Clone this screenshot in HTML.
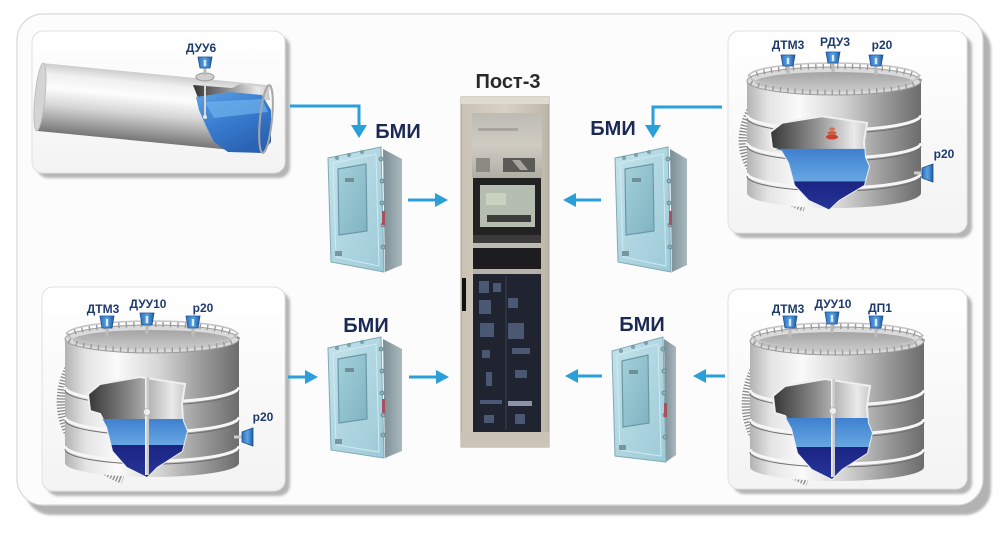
<!DOCTYPE html>
<html><head><meta charset="utf-8"><style>
html,body{margin:0;padding:0;background:#fff;width:1007px;height:534px;overflow:hidden}
svg{display:block}
text{font-family:"Liberation Sans","DejaVu Sans",sans-serif;font-weight:bold}
</style></head><body>
<svg width="1007" height="534" viewBox="0 0 1007 534" xmlns="http://www.w3.org/2000/svg">
<defs>
<filter id="blur2" x="-5%" y="-5%" width="110%" height="110%"><feGaussianBlur stdDeviation="1.2"/></filter>
<linearGradient id="boxg" x1="0" y1="0" x2="0" y2="1"><stop offset="0" stop-color="#ffffff"/><stop offset="1" stop-color="#f3f3f3"/></linearGradient>
<linearGradient id="tb" x1="0" y1="0" x2="1" y2="0"><stop offset="0" stop-color="#b3b3b3"/><stop offset="0.12" stop-color="#e4e4e4"/><stop offset="0.3" stop-color="#fafafa"/><stop offset="0.55" stop-color="#d3d3d3"/><stop offset="0.8" stop-color="#979797"/><stop offset="1" stop-color="#6c6c6c"/></linearGradient>
<linearGradient id="roof" x1="0" y1="0" x2="0" y2="1"><stop offset="0" stop-color="#a4a4a4"/><stop offset="1" stop-color="#cdcdcd"/></linearGradient>
<linearGradient id="inner" x1="0" y1="0" x2="1" y2="0"><stop offset="0" stop-color="#363636"/><stop offset="0.45" stop-color="#8e8e8e"/><stop offset="0.85" stop-color="#eaeaea"/><stop offset="1" stop-color="#c4c4c4"/></linearGradient>
<linearGradient id="wl" x1="0" y1="0" x2="0" y2="1"><stop offset="0" stop-color="#3f80cf"/><stop offset="1" stop-color="#68a8e2"/></linearGradient>
<linearGradient id="wd" x1="0" y1="0" x2="0" y2="1"><stop offset="0" stop-color="#1a2482"/><stop offset="1" stop-color="#2a3aa0"/></linearGradient>
<linearGradient id="pipeg" x1="0" y1="0" x2="0" y2="1"><stop offset="0" stop-color="#cdcdcd"/><stop offset="0.15" stop-color="#f0f0f0"/><stop offset="0.35" stop-color="#fdfdfd"/><stop offset="0.6" stop-color="#d6d6d6"/><stop offset="0.85" stop-color="#9a9a9a"/><stop offset="1" stop-color="#767676"/></linearGradient>
<linearGradient id="pw" x1="0" y1="0" x2="0.6" y2="1"><stop offset="0" stop-color="#5ea2e4"/><stop offset="0.5" stop-color="#3a7ed0"/><stop offset="1" stop-color="#2a62b4"/></linearGradient>
<linearGradient id="sb" x1="0" y1="0" x2="1" y2="0"><stop offset="0" stop-color="#2d6fbd"/><stop offset="0.5" stop-color="#5aa4e6"/><stop offset="1" stop-color="#1f5aa0"/></linearGradient>
<linearGradient id="bfront" x1="0" y1="0" x2="1" y2="1"><stop offset="0" stop-color="#c4e3eb"/><stop offset="1" stop-color="#9ccad7"/></linearGradient>
<linearGradient id="bside" x1="0" y1="0" x2="1" y2="0"><stop offset="0" stop-color="#7c8e95"/><stop offset="1" stop-color="#a9b9be"/></linearGradient>
<linearGradient id="bwin" x1="0" y1="0" x2="1" y2="1"><stop offset="0" stop-color="#a3d0da"/><stop offset="1" stop-color="#7fb3c1"/></linearGradient>
<linearGradient id="cab" x1="0" y1="0" x2="1" y2="0"><stop offset="0" stop-color="#c9c2b4"/><stop offset="0.5" stop-color="#d8d2c6"/><stop offset="1" stop-color="#bdb6a8"/></linearGradient>
<linearGradient id="cabup" x1="0" y1="0" x2="0" y2="1"><stop offset="0" stop-color="#bdbbb4"/><stop offset="0.5" stop-color="#cfcbc1"/><stop offset="1" stop-color="#b1aea6"/></linearGradient>
<clipPath id="cut"><path d="M23 55 L35 45 L75 38 L120 45 L117 65 L118 82 L122 92 L117 112 L92 128 L82 138 L62 128 L48 112 L42 88 L35 75 L25 72 Z"/></clipPath>
</defs>

<!-- outer panel -->
<rect x="25" y="24" width="966" height="491" rx="26" fill="#b2b2b2" filter="url(#blur2)"/>
<rect x="17" y="14" width="966" height="491" rx="26" fill="#fcfcfc" stroke="#d8d8d8" stroke-width="1.2"/>

<!-- inner box shadows & boxes -->
<rect x="37" y="36" width="253" height="142" rx="11" fill="#b6b6b6" filter="url(#blur2)"/>
<rect x="32" y="31" width="253" height="142" rx="11" fill="url(#boxg)" stroke="#e0e0e0"/>
<rect x="733" y="36" width="239" height="202" rx="11" fill="#b6b6b6" filter="url(#blur2)"/>
<rect x="728" y="31" width="239" height="202" rx="11" fill="url(#boxg)" stroke="#e0e0e0"/>
<rect x="47" y="292" width="243" height="204" rx="11" fill="#b6b6b6" filter="url(#blur2)"/>
<rect x="42" y="287" width="243" height="204" rx="11" fill="url(#boxg)" stroke="#e0e0e0"/>
<rect x="733" y="294" width="239" height="200" rx="11" fill="#b6b6b6" filter="url(#blur2)"/>
<rect x="728" y="289" width="239" height="200" rx="11" fill="url(#boxg)" stroke="#e0e0e0"/>

<!-- PIPE -->
<g transform="translate(40,97) rotate(5.6)">
  <rect x="0" y="-34" width="228" height="68" fill="url(#pipeg)"/>
  <ellipse cx="0" cy="0" rx="5" ry="34" fill="#d4d4d4" stroke="#bdbdbd"/>
</g>
<polygon points="193,85 232,88 240,84 268,88 270,100 200,103" fill="url(#inner)"/>
<polygon points="196,97 230,92 262,95 271,110 271,142 262,153 228,152 214,142 206,126 199,110" fill="url(#pw)"/>
<polygon points="205,102 262,99 268,112 214,118" fill="#6fb2ec" opacity="0.7"/>
<ellipse cx="266" cy="119" rx="6" ry="34" fill="none" stroke="#a6a6a6" stroke-width="2" transform="rotate(5.6 266 119)"/>
<rect x="204" y="80" width="2" height="36" fill="#d8d8d8"/>
<circle cx="205" cy="117" r="2" fill="#e8e8e8"/>
<ellipse cx="205" cy="77" rx="9" ry="4" fill="#cfcfcf" stroke="#999"/>
<rect x="203.5" y="66" width="3" height="9" fill="#bbb"/>
<g transform="translate(205,66)"><path d="M-7 -9 L7 -9 L5 2 L-5 2 Z" fill="url(#sb)" stroke="#1d4f8f" stroke-width="0.8"/><rect x="-1.2" y="-6" width="2.4" height="6" fill="#d9ecff"/></g>
<text x="201" y="52" font-size="12" fill="#1e3a6e" text-anchor="middle">ДУУ6</text>

<!-- TANK top-right -->
<g transform="translate(747,81)">
  <path d="M10 20 C -14 55, -10 100, 58 126" fill="none" stroke="#8a8a8a" stroke-width="10" stroke-dasharray="1.3 1.7"/>
  <path d="M0 0 L0 112 A87 15 0 0 0 174 112 L174 0 Z" fill="url(#tb)"/>
  <path d="M0 34 A87 15 0 0 0 174 34" fill="none" stroke="#f6f6f6" stroke-width="3"/>
  <path d="M0 37 A87 15 0 0 0 174 37" fill="none" stroke="#6f6f6f" stroke-width="1"/>
  <path d="M0 62 A87 15 0 0 0 174 62" fill="none" stroke="#f6f6f6" stroke-width="3"/>
  <path d="M0 65 A87 15 0 0 0 174 65" fill="none" stroke="#6f6f6f" stroke-width="1"/>
  <path d="M0 92 A87 15 0 0 0 174 92" fill="none" stroke="#f6f6f6" stroke-width="3"/>
  <path d="M0 95 A87 15 0 0 0 174 95" fill="none" stroke="#6f6f6f" stroke-width="1"/>
  <ellipse cx="87" cy="0" rx="87" ry="14" fill="#dadada" stroke="#9c9c9c"/>
  <ellipse cx="87" cy="1" rx="79" ry="10" fill="url(#roof)"/>
  <ellipse cx="87" cy="-2" rx="85" ry="13" fill="none" stroke="#9a9a9a" stroke-width="6" stroke-dasharray="1.4 6"/>
  <ellipse cx="87" cy="-5" rx="85" ry="13" fill="none" stroke="#c4c4c4" stroke-width="1.6"/>
  <g transform="scale(1,0.93)">
    <path d="M23 55 L35 45 L75 38 L120 45 L117 65 L118 82 L122 92 L117 112 L92 128 L82 138 L62 128 L48 112 L42 88 L35 75 L25 72 Z" fill="url(#inner)" stroke="#efefef" stroke-width="2"/>
    <g clip-path="url(#cut)">
      <rect x="20" y="73" width="110" height="36" fill="url(#wl)"/>
      <rect x="20" y="108" width="110" height="40" fill="url(#wd)"/>
    </g>
  </g>
  <ellipse cx="85" cy="56" rx="6" ry="2.5" fill="#c8402e"/>
  <ellipse cx="85" cy="52" rx="4.5" ry="2" fill="#d8583e"/>
  <ellipse cx="85" cy="48" rx="3" ry="1.6" fill="#e06a4a"/>
</g>
<g transform="translate(788,64)"><rect x="-1.5" y="2" width="3" height="9" fill="#bbb"/><path d="M-7 -9 L7 -9 L5 2 L-5 2 Z" fill="url(#sb)" stroke="#1d4f8f" stroke-width="0.8"/><rect x="-1.2" y="-6" width="2.4" height="6" fill="#d9ecff"/></g>
<g transform="translate(833,61)"><rect x="-1.5" y="2" width="3" height="9" fill="#bbb"/><path d="M-7 -9 L7 -9 L5 2 L-5 2 Z" fill="url(#sb)" stroke="#1d4f8f" stroke-width="0.8"/><rect x="-1.2" y="-6" width="2.4" height="6" fill="#d9ecff"/></g>
<g transform="translate(876,64)"><rect x="-1.5" y="2" width="3" height="9" fill="#bbb"/><path d="M-7 -9 L7 -9 L5 2 L-5 2 Z" fill="url(#sb)" stroke="#1d4f8f" stroke-width="0.8"/><rect x="-1.2" y="-6" width="2.4" height="6" fill="#d9ecff"/></g>
<g transform="translate(922,173)"><rect x="-8" y="-1.5" width="8" height="3" fill="#ccc"/><path d="M0 -5 L11 -9 L11 9 L0 5 Z" fill="url(#sb)" stroke="#1d4f8f" stroke-width="0.8"/></g>
<text x="788" y="49" font-size="12" fill="#1e3a6e" text-anchor="middle">ДТМ3</text>
<text x="835" y="46" font-size="12" fill="#1e3a6e" text-anchor="middle">РДУ3</text>
<text x="882" y="49" font-size="12" fill="#1e3a6e" text-anchor="middle">р20</text>
<text x="944" y="158" font-size="12" fill="#1e3a6e" text-anchor="middle">р20</text>

<!-- TANK bottom-left -->
<g transform="translate(65,339)">
  <path d="M10 20 C -14 55, -10 112, 58 140" fill="none" stroke="#8a8a8a" stroke-width="10" stroke-dasharray="1.3 1.7"/>
  <path d="M0 0 L0 124 A87 14 0 0 0 174 124 L174 0 Z" fill="url(#tb)"/>
  <path d="M0 48 A87 15 0 0 0 174 48" fill="none" stroke="#f6f6f6" stroke-width="3"/>
  <path d="M0 51 A87 15 0 0 0 174 51" fill="none" stroke="#6f6f6f" stroke-width="1"/>
  <path d="M0 78 A87 15 0 0 0 174 78" fill="none" stroke="#f6f6f6" stroke-width="3"/>
  <path d="M0 81 A87 15 0 0 0 174 81" fill="none" stroke="#6f6f6f" stroke-width="1"/>
  <path d="M0 107 A87 15 0 0 0 174 107" fill="none" stroke="#f6f6f6" stroke-width="3"/>
  <path d="M0 110 A87 15 0 0 0 174 110" fill="none" stroke="#6f6f6f" stroke-width="1"/>
  <ellipse cx="87" cy="0" rx="87" ry="14" fill="#dadada" stroke="#9c9c9c"/>
  <ellipse cx="87" cy="1" rx="79" ry="10" fill="url(#roof)"/>
  <ellipse cx="87" cy="-2" rx="85" ry="13" fill="none" stroke="#9a9a9a" stroke-width="6" stroke-dasharray="1.4 6"/>
  <ellipse cx="87" cy="-5" rx="85" ry="13" fill="none" stroke="#c4c4c4" stroke-width="1.6"/>
  <path d="M23 55 L35 45 L75 38 L120 45 L117 65 L118 82 L122 92 L117 112 L92 128 L82 138 L62 128 L48 112 L42 88 L35 75 L25 72 Z" fill="url(#inner)" stroke="#efefef" stroke-width="2"/>
  <g clip-path="url(#cut)">
    <rect x="20" y="80" width="110" height="27" fill="url(#wl)"/>
    <rect x="20" y="106" width="110" height="40" fill="url(#wd)"/>
  </g>
  <rect x="80" y="38" width="4" height="98" fill="#c9c9c9"/>
  <rect x="80" y="38" width="1.5" height="98" fill="#efefef"/>
  <circle cx="82" cy="73" r="3.5" fill="#eeeeee" stroke="#aaa" stroke-width="0.6"/>
</g>
<g transform="translate(107,326)"><rect x="-1.5" y="2" width="3" height="9" fill="#bbb"/><path d="M-7 -10 L7 -10 L5 2 L-5 2 Z" fill="url(#sb)" stroke="#1d4f8f" stroke-width="0.8"/><rect x="-1.2" y="-7" width="2.4" height="7" fill="#d9ecff"/></g>
<g transform="translate(147,323)"><rect x="-1.5" y="2" width="3" height="9" fill="#bbb"/><path d="M-7 -10 L7 -10 L5 2 L-5 2 Z" fill="url(#sb)" stroke="#1d4f8f" stroke-width="0.8"/><rect x="-1.2" y="-7" width="2.4" height="7" fill="#d9ecff"/></g>
<g transform="translate(193,326)"><rect x="-1.5" y="2" width="3" height="9" fill="#bbb"/><path d="M-7 -10 L7 -10 L5 2 L-5 2 Z" fill="url(#sb)" stroke="#1d4f8f" stroke-width="0.8"/><rect x="-1.2" y="-7" width="2.4" height="7" fill="#d9ecff"/></g>
<g transform="translate(242,437)"><rect x="-8" y="-1.5" width="8" height="3" fill="#ccc"/><path d="M0 -5 L11 -9 L11 9 L0 5 Z" fill="url(#sb)" stroke="#1d4f8f" stroke-width="0.8"/></g>
<text x="103" y="313" font-size="12" fill="#1e3a6e" text-anchor="middle">ДТМ3</text>
<text x="148" y="308" font-size="12" fill="#1e3a6e" text-anchor="middle">ДУУ10</text>
<text x="203" y="312" font-size="12" fill="#1e3a6e" text-anchor="middle">р20</text>
<text x="263" y="421" font-size="12" fill="#1e3a6e" text-anchor="middle">р20</text>

<!-- TANK bottom-right -->
<g transform="translate(750,341)">
  <path d="M10 20 C -14 55, -10 112, 58 140" fill="none" stroke="#8a8a8a" stroke-width="10" stroke-dasharray="1.3 1.7"/>
  <path d="M0 0 L0 126 A87 14 0 0 0 174 126 L174 0 Z" fill="url(#tb)"/>
  <path d="M0 49 A87 15 0 0 0 174 49" fill="none" stroke="#f6f6f6" stroke-width="3"/>
  <path d="M0 52 A87 15 0 0 0 174 52" fill="none" stroke="#6f6f6f" stroke-width="1"/>
  <path d="M0 78 A87 15 0 0 0 174 78" fill="none" stroke="#f6f6f6" stroke-width="3"/>
  <path d="M0 81 A87 15 0 0 0 174 81" fill="none" stroke="#6f6f6f" stroke-width="1"/>
  <path d="M0 108 A87 15 0 0 0 174 108" fill="none" stroke="#f6f6f6" stroke-width="3"/>
  <path d="M0 111 A87 15 0 0 0 174 111" fill="none" stroke="#6f6f6f" stroke-width="1"/>
  <ellipse cx="87" cy="0" rx="87" ry="14" fill="#dadada" stroke="#9c9c9c"/>
  <ellipse cx="87" cy="1" rx="79" ry="10" fill="url(#roof)"/>
  <ellipse cx="87" cy="-2" rx="85" ry="13" fill="none" stroke="#9a9a9a" stroke-width="6" stroke-dasharray="1.4 6"/>
  <ellipse cx="87" cy="-5" rx="85" ry="13" fill="none" stroke="#c4c4c4" stroke-width="1.6"/>
  <path d="M23 55 L35 45 L75 38 L120 45 L117 65 L118 82 L122 92 L117 112 L92 128 L82 138 L62 128 L48 112 L42 88 L35 75 L25 72 Z" fill="url(#inner)" stroke="#efefef" stroke-width="2"/>
  <g clip-path="url(#cut)">
    <rect x="20" y="77" width="110" height="30" fill="url(#wl)"/>
    <rect x="20" y="106" width="110" height="40" fill="url(#wd)"/>
  </g>
  <rect x="81" y="38" width="4" height="98" fill="#c9c9c9"/>
  <rect x="81" y="38" width="1.5" height="98" fill="#efefef"/>
  <circle cx="83" cy="70" r="3.5" fill="#eeeeee" stroke="#aaa" stroke-width="0.6"/>
</g>
<g transform="translate(790,326)"><rect x="-1.5" y="2" width="3" height="9" fill="#bbb"/><path d="M-7 -10 L7 -10 L5 2 L-5 2 Z" fill="url(#sb)" stroke="#1d4f8f" stroke-width="0.8"/><rect x="-1.2" y="-7" width="2.4" height="7" fill="#d9ecff"/></g>
<g transform="translate(832,322)"><rect x="-1.5" y="2" width="3" height="9" fill="#bbb"/><path d="M-7 -10 L7 -10 L5 2 L-5 2 Z" fill="url(#sb)" stroke="#1d4f8f" stroke-width="0.8"/><rect x="-1.2" y="-7" width="2.4" height="7" fill="#d9ecff"/></g>
<g transform="translate(876,326)"><rect x="-1.5" y="2" width="3" height="9" fill="#bbb"/><path d="M-7 -10 L7 -10 L5 2 L-5 2 Z" fill="url(#sb)" stroke="#1d4f8f" stroke-width="0.8"/><rect x="-1.2" y="-7" width="2.4" height="7" fill="#d9ecff"/></g>
<text x="788" y="313" font-size="12" fill="#1e3a6e" text-anchor="middle">ДТМ3</text>
<text x="833" y="308" font-size="12" fill="#1e3a6e" text-anchor="middle">ДУУ10</text>
<text x="880" y="312" font-size="12" fill="#1e3a6e" text-anchor="middle">ДП1</text>

<!-- CABINET -->
<text x="508" y="88" font-size="20" fill="#2a2a2a" text-anchor="middle">Пост-3</text>
<rect x="461" y="97" width="88" height="350" fill="url(#cab)" stroke="#aaa395" stroke-width="1"/>
<rect x="461" y="97" width="88" height="7" fill="#e0dbd0"/>
<rect x="472" y="113" width="70" height="65" fill="url(#cabup)"/>
<rect x="478" y="128" width="40" height="3" fill="#a9a59c"/>
<rect x="476" y="158" width="14" height="14" fill="#8d8a84"/>
<polygon points="503,158 535,158 535,172 503,172" fill="#5c5a56"/>
<polygon points="512,160 520,160 528,170 520,170" fill="#a8a59e"/>
<rect x="473" y="178" width="68" height="57" fill="#222"/>
<rect x="480" y="185" width="55" height="42" fill="#b4bdb0"/>
<rect x="486" y="193" width="20" height="12" fill="#c9d2bf"/>
<rect x="487" y="215" width="44" height="7" fill="#3a3d3a"/>
<rect x="473" y="235" width="68" height="8" fill="#3b3b3b"/>
<rect x="473" y="243" width="68" height="5" fill="#bcbab2"/>
<rect x="473" y="248" width="68" height="21" fill="#1d1d1f"/>
<rect x="473" y="269" width="68" height="5" fill="#b6b3ab"/>
<rect x="473" y="274" width="68" height="158" fill="#1f2430"/>
<g fill="#4b5873">
<rect x="479" y="281" width="10" height="12"/><rect x="493" y="283" width="8" height="9"/>
<rect x="479" y="300" width="12" height="14"/><rect x="508" y="298" width="10" height="10"/>
<rect x="480" y="323" width="14" height="14"/><rect x="508" y="323" width="16" height="16"/>
<rect x="482" y="350" width="8" height="8"/><rect x="512" y="348" width="18" height="6"/>
<rect x="486" y="372" width="6" height="14"/><rect x="515" y="370" width="12" height="8"/>
<rect x="480" y="400" width="22" height="4"/><rect x="508" y="401" width="24" height="5" fill="#8a93a8"/>
<rect x="484" y="415" width="10" height="8"/><rect x="515" y="414" width="10" height="10"/>
</g>
<rect x="505" y="276" width="2" height="154" fill="#2c3240"/>
<rect x="462" y="278" width="4" height="33" fill="#111"/>
<rect x="461" y="432" width="88" height="15" fill="#cbc4b6"/>

<!-- BMI devices -->
<g transform="translate(328,147)">
  <polygon points="55,2 74,12 74,118 57,125" fill="url(#bside)"/>
  <polygon points="0,11 53,0 56,125 3,115" fill="url(#bfront)" stroke="#7faab7" stroke-width="1"/>
  <polygon points="5,16 48,7 51,119 8,110" fill="none" stroke="#d0eaf1" stroke-width="1"/>
  <polygon points="10,22 38,17 39,84 11,88" fill="url(#bwin)" stroke="#6b98a6" stroke-width="1.2"/>
  <rect x="17" y="31" width="9" height="4" fill="#6f9099"/>
  <g fill="#8fb1ba" stroke="#5e8591" stroke-width="0.8"><circle cx="53" cy="12" r="2"/><circle cx="54" cy="34" r="2"/><circle cx="54" cy="56" r="2"/><circle cx="55" cy="78" r="2"/><circle cx="55" cy="100" r="2"/><circle cx="9" cy="11" r="1.4"/><circle cx="21" cy="8" r="1.4"/><circle cx="34" cy="5" r="1.4"/></g>
  <rect x="54" y="64" width="3" height="14" fill="#a8505c"/>
  <rect x="7" y="104" width="7" height="5" fill="#7896a0"/>
</g>
<g transform="translate(615,147)">
  <polygon points="55,2 72,12 72,118 57,125" fill="url(#bside)"/>
  <polygon points="0,11 53,0 56,125 3,115" fill="url(#bfront)" stroke="#7faab7" stroke-width="1"/>
  <polygon points="5,16 48,7 51,119 8,110" fill="none" stroke="#d0eaf1" stroke-width="1"/>
  <polygon points="10,22 38,17 39,84 11,88" fill="url(#bwin)" stroke="#6b98a6" stroke-width="1.2"/>
  <rect x="17" y="31" width="9" height="4" fill="#6f9099"/>
  <g fill="#8fb1ba" stroke="#5e8591" stroke-width="0.8"><circle cx="53" cy="12" r="2"/><circle cx="54" cy="34" r="2"/><circle cx="54" cy="56" r="2"/><circle cx="55" cy="78" r="2"/><circle cx="55" cy="100" r="2"/><circle cx="9" cy="11" r="1.4"/><circle cx="21" cy="8" r="1.4"/><circle cx="34" cy="5" r="1.4"/></g>
  <rect x="54" y="64" width="3" height="14" fill="#a8505c"/>
  <rect x="7" y="104" width="7" height="5" fill="#7896a0"/>
</g>
<g transform="translate(328,337)">
  <polygon points="55,2 74,12 74,114 57,121" fill="url(#bside)"/>
  <polygon points="0,11 53,0 56,121 3,113" fill="url(#bfront)" stroke="#7faab7" stroke-width="1"/>
  <polygon points="5,16 48,7 51,115 8,108" fill="none" stroke="#d0eaf1" stroke-width="1"/>
  <polygon points="10,22 38,17 39,82 11,86" fill="url(#bwin)" stroke="#6b98a6" stroke-width="1.2"/>
  <rect x="17" y="31" width="9" height="4" fill="#6f9099"/>
  <g fill="#8fb1ba" stroke="#5e8591" stroke-width="0.8"><circle cx="53" cy="12" r="2"/><circle cx="54" cy="34" r="2"/><circle cx="54" cy="56" r="2"/><circle cx="55" cy="78" r="2"/><circle cx="55" cy="98" r="2"/><circle cx="9" cy="11" r="1.4"/><circle cx="21" cy="8" r="1.4"/><circle cx="34" cy="5" r="1.4"/></g>
  <rect x="54" y="62" width="3" height="14" fill="#a8505c"/>
  <rect x="7" y="102" width="7" height="5" fill="#7896a0"/>
</g>
<g transform="translate(612,337)">
  <polygon points="52,2 64,10 64,118 54,125" fill="url(#bside)"/>
  <polygon points="0,14 51,0 54,125 3,119" fill="url(#bfront)" stroke="#7faab7" stroke-width="1"/>
  <polygon points="5,18 46,7 49,119 8,113" fill="none" stroke="#d0eaf1" stroke-width="1"/>
  <polygon points="10,24 36,18 37,86 11,90" fill="url(#bwin)" stroke="#6b98a6" stroke-width="1.2"/>
  <rect x="17" y="33" width="9" height="4" fill="#6f9099"/>
  <g fill="#8fb1ba" stroke="#5e8591" stroke-width="0.8"><circle cx="51" cy="12" r="2"/><circle cx="52" cy="34" r="2"/><circle cx="52" cy="56" r="2"/><circle cx="53" cy="78" r="2"/><circle cx="53" cy="100" r="2"/><circle cx="9" cy="14" r="1.4"/><circle cx="21" cy="10" r="1.4"/><circle cx="34" cy="6" r="1.4"/></g>
  <rect x="52" y="66" width="3" height="14" fill="#a8505c"/>
  <rect x="7" y="108" width="7" height="5" fill="#7896a0"/>
</g>
<text x="398" y="138" font-size="20" fill="#1b2a55" text-anchor="middle">БМИ</text>
<text x="613" y="135" font-size="20" fill="#1b2a55" text-anchor="middle">БМИ</text>
<text x="366" y="332" font-size="20" fill="#1b2a55" text-anchor="middle">БМИ</text>
<text x="642" y="331" font-size="20" fill="#1b2a55" text-anchor="middle">БМИ</text>

<!-- ARROWS -->
<g fill="none" stroke="#2a9fd8" stroke-width="3">
  <path d="M290 106 H359 V127"/>
  <path d="M408 200 H437"/>
  <path d="M722 107 H653 V127"/>
  <path d="M601 200 H574"/>
  <path d="M288 377 H307"/>
  <path d="M409 377 H438"/>
  <path d="M725 376 H705"/>
  <path d="M602 376 H577"/>
</g>
<g fill="#2a9fd8">
  <polygon points="351,125 367,125 359,138"/>
  <polygon points="435,193 448,200 435,207"/>
  <polygon points="645,125 661,125 653,138"/>
  <polygon points="576,193 563,200 576,207"/>
  <polygon points="305,370 318,377 305,384"/>
  <polygon points="436,370 449,377 436,384"/>
  <polygon points="706,369 693,376 706,383"/>
  <polygon points="578,369 565,376 578,383"/>
</g>
</svg>
</body></html>
